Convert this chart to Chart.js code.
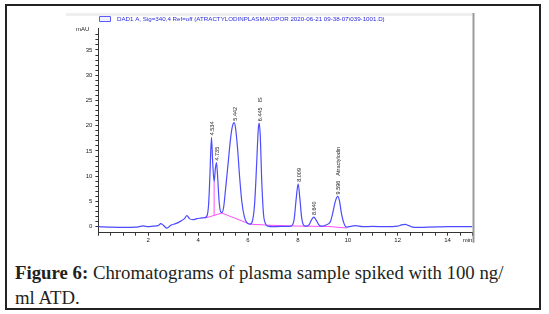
<!DOCTYPE html>
<html>
<head>
<meta charset="utf-8">
<script src="https://cdn.jsdelivr.net/npm/chart.js@4/dist/chart.umd.min.js"></script>
<style>
  html, body { margin: 0; padding: 0; background: #fff; }
  #wrap { position: relative; width: 549px; height: 314px; overflow: hidden; }
  #frame { position: absolute; left: 5px; top: 4px; width: 532px; height: 302px; border: 2px solid #222; }
  #chart { position: absolute; left: 0; top: 0; }
  #caption { position: absolute; left: 15px; top: 260px; font-family: "Liberation Serif", "DejaVu Serif", serif; font-size: 18.8px; line-height: 25px; color: #231f20; white-space: nowrap; }
</style>
</head>
<body>
<div id="wrap">
  <div id="frame"></div>
  <canvas id="chart" width="549" height="250"></canvas>
  <div id="caption"><b>Figure 6:</b> Chromatograms of plasma sample spiked with 100 ng/<br>ml ATD.</div>
</div>
<script>
// signal trace (min, mAU)
var traceTime = [0, 0.5, 1.0, 1.5, 1.8, 2.0, 2.2, 2.4, 2.5, 2.6, 2.75, 2.9, 3.1, 3.3, 3.45, 3.55, 3.65, 3.8, 3.95, 4.1,
  4.25, 4.35, 4.42, 4.47, 4.534, 4.58, 4.64, 4.69, 4.735, 4.78, 4.84, 4.9, 4.95, 5.02, 5.1, 5.2, 5.3, 5.38, 5.442, 5.5,
  5.58, 5.66, 5.75, 5.85, 5.95, 6.08, 6.18, 6.27, 6.35, 6.41, 6.445, 6.49, 6.55, 6.62, 6.7, 6.8, 7.0, 7.3, 7.6, 7.75,
  7.85, 7.93, 8.009, 8.08, 8.15, 8.25, 8.35, 8.45, 8.55, 8.64, 8.73, 8.85, 8.95, 9.1, 9.3, 9.4, 9.5, 9.596, 9.67, 9.75,
  9.85, 9.95, 10.05, 10.3, 10.6, 11.0, 11.5, 12.0, 12.15, 12.3, 12.45, 12.6, 12.8, 13.2, 13.6, 14.0, 14.5, 15.0];
var traceSignal = [0, -0.1, -0.15, -0.1, 0.15, 0.0, 0.1, 0.2, 0.6, 0.3, -0.3, 0.3, 0.6, 1.1, 1.6, 2.2, 1.6, 1.4, 1.6, 1.7,
  1.8, 2.1, 4.5, 10, 17.7, 13, 8.9, 11.5, 12.7, 10, 5, 3.0, 2.8, 3.8, 7.5, 12.5, 17.5, 20.0, 20.6, 19.5,
  15.5, 10, 5, 2, 0.8, 0.5, 1.2, 5, 13, 19.3, 20.5, 18, 9, 2.5, 0.6, 0.1, 0.0, 0.05, 0.05, 0.2,
  1.5, 5.5, 8.5, 5.5, 1.8, 0.2, 0.1, 0.4, 1.4, 1.9, 1.3, 0.3, 0.1, 0.3, 1.0, 2.8, 5.0, 6.0, 5.0, 2.5,
  0.6, -0.1, 0.0, 0.2, 0.0, 0.05, 0.0, 0.1, 0.35, 0.45, 0.2, -0.1, -0.15, -0.1, -0.05, 0.0, 0.0, 0.0];

// integration baseline (pink)
var baselineTime = [4.28, 4.95, 6.08, 6.8, 7.7, 8.3, 9.2, 9.95];
var baselineSignal = [1.7, 2.7, 0.5, 0.3, 0.15, 0.1, 0.05, -0.25];
var dropTime = [4.64, 4.64];
var dropSignal = [2.24, 8.9];

// peak annotations
var peakTimes = [4.534, 4.735, 5.442, 6.445, 8.009, 8.640, 9.596];
var peakHeights = [17.7, 12.7, 20.6, 20.5, 8.5, 1.9, 6.0];
var peakNames = ['', '', '', 'IS', '', '', 'Atractylodin'];

var signalLabel = 'DAD1 A, Sig=340,4 Ref=off (ATRACTYLODINPLASMA\\OPOR 2020-06-21 09-38-07\\039-1001.D)';

function pts(xs, ys) {
  return xs.map(function(x, i) { return {x: x, y: ys[i]}; });
}

var tickFont = {family: 'Liberation Sans', size: 6};

var decor = {
  id: 'decor',
  afterDraw: function(chart) {
    var ctx = chart.ctx, a = chart.chartArea;
    var xs = chart.scales.x, ys = chart.scales.y;
    ctx.save();
    // header band
    ctx.fillStyle = '#efefef';
    ctx.fillRect(66, 13, a.right - 66, 3);
    // legend
    ctx.strokeStyle = '#5a5aff';
    ctx.fillStyle = '#f0f0ff';
    ctx.lineWidth = 1;
    ctx.beginPath();
    ctx.rect(99.5, 16.5, 11, 5);
    ctx.fill();
    ctx.stroke();
    ctx.fillStyle = '#2b2bdd';
    ctx.font = '6.2px "Liberation Sans"';
    ctx.textBaseline = 'middle';
    ctx.textAlign = 'left';
    ctx.fillText(chart.data.datasets[0].label, 117, 19);
    // right border
    ctx.fillStyle = '#9a9a9a';
    ctx.fillRect(a.right, 13, 2, a.bottom + 10 - 13);
    // units
    ctx.fillStyle = '#222';
    ctx.font = '6px "Liberation Sans"';
    ctx.textAlign = 'right';
    ctx.fillText('mAU', a.left - 9, a.top + 1);
    ctx.textAlign = 'center';
    ctx.fillText('min', a.right - 5, a.bottom + 8);
    // peak labels
    ctx.font = '5.5px "Liberation Sans"';
    ctx.textAlign = 'left';
    peakTimes.forEach(function(t, i) {
      var px = xs.getPixelForValue(t);
      var py = ys.getPixelForValue(peakHeights[i]);
      var txt = t.toFixed(3);
      ctx.save();
      ctx.translate(px + 1, py - 2);
      ctx.rotate(-Math.PI / 2);
      ctx.fillText(txt, 0, 0);
      if (peakNames[i]) {
        ctx.fillText(peakNames[i], ctx.measureText(txt).width + 5, 0);
      }
      ctx.restore();
    });
    ctx.restore();
  }
};

new Chart(document.getElementById('chart'), {
  type: 'line',
  data: {
    datasets: [{
      label: signalLabel,
      data: pts(traceTime, traceSignal),
      borderColor: '#4b4bff',
      borderWidth: 1.2,
      pointRadius: 0,
      cubicInterpolationMode: 'monotone',
      order: 1
    }, {
      label: 'baseline',
      data: pts(baselineTime, baselineSignal),
      borderColor: '#ff4dff',
      borderWidth: 1,
      pointRadius: 0,
      tension: 0,
      order: 2
    }, {
      label: 'drop',
      data: pts(dropTime, dropSignal),
      borderColor: '#ff4dff',
      borderWidth: 1,
      pointRadius: 0,
      tension: 0,
      order: 2
    }]
  },
  options: {
    responsive: false,
    animation: false,
    devicePixelRatio: 1,
    layout: { padding: { left: 0, right: 76.5, top: 28, bottom: 0 } },
    plugins: { legend: { display: false }, tooltip: { enabled: false } },
    scales: {
      x: {
        type: 'linear',
        min: 0,
        max: 15,
        afterFit: function(s) { s.height = 17.3; },
        grid: { drawOnChartArea: false, tickLength: 3, color: '#333' },
        border: { color: '#333' },
        ticks: {
          stepSize: 0.5,
          autoSkip: false,
          maxRotation: 0,
          padding: 1,
          font: tickFont,
          color: '#222',
          callback: function(v) { return (v > 0 && v < 15 && v % 2 === 0) ? v : ''; }
        }
      },
      y: {
        min: -1.19,
        max: 39.35,
        afterFit: function(s) { s.width = 98.4; },
        afterBuildTicks: function(s) {
          s.ticks = s.ticks.filter(function(t) { return Number.isInteger(t.value); });
        },
        grid: { drawOnChartArea: false, tickLength: 3, color: '#333' },
        border: { color: '#333' },
        ticks: {
          stepSize: 1,
          autoSkip: false,
          padding: 3,
          font: tickFont,
          color: '#222',
          callback: function(v) { return v % 5 === 0 ? v : ''; }
        }
      }
    }
  },
  plugins: [decor]
});
</script>
</body>
</html>
